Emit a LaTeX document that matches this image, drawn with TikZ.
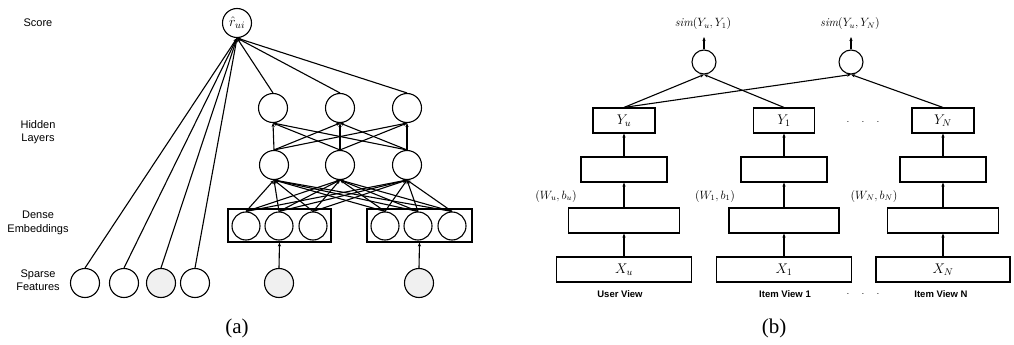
\RequirePackage{fix-cm}
\documentclass[tikz,border=0pt]{standalone}
\usepackage{fontspec}
\setsansfont{Liberation Sans}
\newfontfamily\capfont{Liberation Serif}
\usetikzlibrary{arrows.meta}
\begin{document}
\begin{tikzpicture}[x=1pt,y=-1pt,
  line width=1.1pt,
  arr/.style={-{Stealth[length=4pt,width=3.2pt]}},
  neuron/.style={circle,draw,minimum size=29pt,inner sep=0pt},
  greyneuron/.style={neuron,fill=black!6},
  simcirc/.style={circle,draw,minimum size=24pt,inner sep=0pt},
  layerbox/.style={draw,minimum height=25pt,inner sep=0pt,font=\fontsize{14}{16}\selectfont},
  sidelabel/.style={font=\sffamily\fontsize{11}{13.5}\selectfont,align=center},
  viewlabel/.style={font=\sffamily\bfseries\fontsize{9.5}{11}\selectfont},
  caplabel/.style={font=\capfont\fontsize{21}{24}\selectfont},
  mathlabel/.style={font=\fontsize{12}{14}\selectfont}]
\useasboundingbox (0,0) rectangle (1014,345);

% ---------- (a) ----------
\node[sidelabel] (lscore) at (38,23) {Score};
\node[sidelabel] (lhidden) at (38,132) {Hidden\\Layers};
\node[sidelabel] (ldense) at (38,223) {Dense\\Embeddings};
\node[sidelabel] (lsparse) at (38,280) {Sparse\\Features};

\node[neuron,font=\fontsize{14}{16}\selectfont] (r) at (237,23) {$\hat{r}_{ui}$};

\node[neuron] (ha) at (273,108) {};
\node[neuron] (hb) at (340,108) {};
\node[neuron] (hc) at (407,108) {};
\node[neuron] (ga) at (274,165) {};
\node[neuron] (gb) at (340,165) {};
\node[neuron] (gc) at (407,165) {};

\node[draw,minimum width=103pt,minimum height=33pt,inner sep=0pt] (eL) at (279.5,225.5) {};
\node[draw,minimum width=105pt,minimum height=33pt,inner sep=0pt] (eR) at (419.5,225.5) {};
\node[neuron,minimum size=28pt] (e1) at (246,226) {};
\node[neuron,minimum size=28pt] (e2) at (279,226) {};
\node[neuron,minimum size=28pt] (e3) at (313,226) {};
\node[neuron,minimum size=28pt] (e4) at (385,226) {};
\node[neuron,minimum size=28pt] (e5) at (418,226) {};
\node[neuron,minimum size=28pt] (e6) at (452,226) {};

\node[neuron] (s1) at (85,283) {};
\node[neuron] (s2) at (124,283) {};
\node[greyneuron] (s3) at (161,283) {};
\node[neuron] (s4) at (195,283) {};
\node[greyneuron] (s5) at (279,283) {};
\node[greyneuron] (s6) at (419,283) {};

\foreach \s in {s1,s2,s3,s4,ha,hb,hc}
  \draw[arr] (\s.north) -- (r.south);
\foreach \g in {ga,gb,gc}
  \foreach \h in {ha,hb,hc}
    \draw[arr] (\g.north) -- (\h.south);
\foreach \e in {e1,e2,e3,e4,e5,e6}
  \foreach \g in {ga,gb,gc}
    \draw[arr] (\e.north) -- (\g.south);
\draw[arr] (s5.north) -- (eL.south);
\draw[arr] (s6.north) -- (eR.south);

\node[caplabel] (capa) at (237,328) {(a)};

% ---------- (b) ----------
\node[simcirc] (c1) at (704,62) {};
\node[simcirc] (c2) at (851,62) {};
\node[mathlabel] (sim1) at (703,24) {$\mathit{sim}(Y_u,Y_1)$};
\node[mathlabel] (simN) at (850,24) {$\mathit{sim}(Y_u,Y_N)$};
\coordinate (o1) at (704,37);
\coordinate (o2) at (851,37);
\draw[arr] (c1.north) -- (o1);
\draw[arr] (c2.north) -- (o2);

\node[layerbox,minimum width=62pt] (yu) at (624,120.5) {$Y_u$};
\node[layerbox,minimum width=61pt] (y1) at (784,120.5) {$Y_1$};
\node[layerbox,minimum width=62pt] (yn) at (943,120.5) {$Y_N$};

\node[layerbox,minimum width=86pt] (mu) at (624,169.5) {};
\node[layerbox,minimum width=86pt] (m1) at (784,169.5) {};
\node[layerbox,minimum width=86pt] (mn) at (943,169.5) {};

\node[layerbox,minimum width=111pt] (lu) at (624,220.5) {};
\node[layerbox,minimum width=110pt] (l1) at (784,220.5) {};
\node[layerbox,minimum width=111pt] (ln) at (943,220.5) {};

\node[layerbox,minimum width=135pt] (xu) at (624,269.5) {$X_u$};
\node[layerbox,minimum width=135pt] (x1) at (784,269.5) {$X_1$};
\node[layerbox,minimum width=134pt] (xn) at (943,269.5) {$X_N$};

\foreach \a/\b in {xu/lu,lu/mu,mu/yu,x1/l1,l1/m1,m1/y1,xn/ln,ln/mn,mn/yn}
  \draw[arr] (\a.north) -- (\b.south);

\draw[arr] (yu.north) -- (c1.south);
\draw[arr] (yu.north) -- (c2.south);
\draw[arr] (y1.north) -- (c1.south);
\draw[arr] (yn.north) -- (c2.south);

\node[mathlabel] (wu) at (556,196) {$(W_u,b_u)$};
\node[mathlabel] (w1) at (715,196) {$(W_1,b_1)$};
\node[mathlabel] (wn) at (874,196) {$(W_N,b_N)$};

\node[font=\fontsize{10}{12}\selectfont] (dots1) at (863,122) {$\cdot\quad\cdot\quad\cdot$};
\node[font=\fontsize{10}{12}\selectfont] (dots2) at (863,294) {$\cdot\quad\cdot\quad\cdot$};

\node[viewlabel] (vu) at (620,294) {User View};
\node[viewlabel] (v1) at (785,294) {Item View 1};
\node[viewlabel] (vn) at (941,294) {Item View N};

\node[caplabel] (capb) at (774,328) {(b)};
\end{tikzpicture}
\end{document}
